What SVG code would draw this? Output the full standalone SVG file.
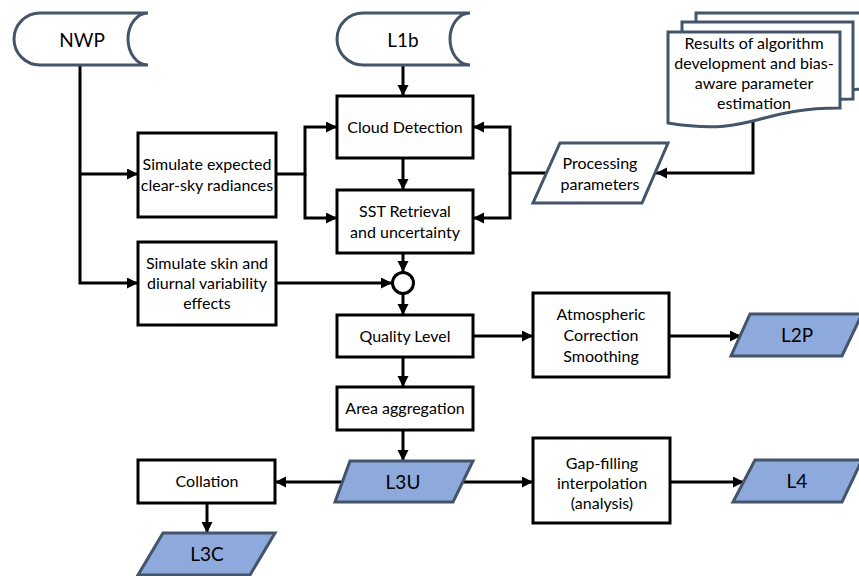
<svg xmlns="http://www.w3.org/2000/svg" width="859" height="576" viewBox="0 0 859 576">
<style>
.box{fill:#fff;stroke:#000;stroke-width:3}
.data{fill:#fff;stroke:#44546A;stroke-width:3}
.out{fill:#8EA9DB;stroke:#44546A;stroke-width:3}
.t{font-family:Lato,"Liberation Sans",sans-serif;font-size:16px;fill:#000;text-anchor:middle}
.tl{font-family:Lato,"Liberation Sans",sans-serif;font-size:19px;fill:#000;text-anchor:middle}
.c{fill:none;stroke:#000;stroke-width:3}
</style>
<defs>
<marker id="ah" markerUnits="userSpaceOnUse" markerWidth="12" markerHeight="12" refX="11" refY="5.5" orient="auto">
<path d="M0,0 L11,5.5 L0,11 z" fill="#000"/>
</marker>
</defs>
<g id="connectors">
<path class="c" d="M80,65 V283 H138" marker-end="url(#ah)"/>
<path class="c" d="M80,174 H138" marker-end="url(#ah)"/>
<path class="c" d="M276,174 H305 V127 H337" marker-end="url(#ah)"/>
<path class="c" d="M305,174 V218 H337" marker-end="url(#ah)"/>
<path class="c" d="M403,65 V96" marker-end="url(#ah)"/>
<path class="c" d="M403,158 V190" marker-end="url(#ah)"/>
<path class="c" d="M403,253 V272" marker-end="url(#ah)"/>
<path class="c" d="M276,283 H392" marker-end="url(#ah)"/>
<path class="c" d="M403,294 V315" marker-end="url(#ah)"/>
<path class="c" d="M403,357 V387" marker-end="url(#ah)"/>
<path class="c" d="M403,430 V461" marker-end="url(#ah)"/>
<path class="c" d="M473,336 H533" marker-end="url(#ah)"/>
<path class="c" d="M669,336 H741" marker-end="url(#ah)"/>
<path class="c" d="M547,173 H510 V127 H473" marker-end="url(#ah)"/>
<path class="c" d="M510,173 V218 H473" marker-end="url(#ah)"/>
<path class="c" d="M753,120 V173 H656" marker-end="url(#ah)"/>
<path class="c" d="M342,482 H275" marker-end="url(#ah)"/>
<path class="c" d="M207,503 V533" marker-end="url(#ah)"/>
<path class="c" d="M463,482 H533" marker-end="url(#ah)"/>
<path class="c" d="M670,482 H744" marker-end="url(#ah)"/>
</g>
<g id="nwp">
<path class="data" d="M148,13 H40 A26,26 0 0 0 40,65 H148 A20,26 0 0 1 148,13 Z"/>
<text class="tl" x="82" y="46.5">NWP</text>
</g>
<g id="l1b">
<path class="data" d="M470,13 H363 A26,26 0 0 0 363,65 H470 A20,26 0 0 1 470,13 Z"/>
<text class="tl" x="403" y="46.5">L1b</text>
</g>
<g id="results">
<path class="data" d="M696,22 V13 H868 V89 C861,89 853,89.4 853,89.4"/>
<path class="data" d="M682,32 V22 H853 V99 C846,99 840,99.3 840,99.3"/>
<path class="data" d="M668,123 C754,137 754,108 840,108 V32 H668 Z"/>
<text class="t" x="754" y="48.6">Results of algorithm</text>
<text class="t" x="754" y="68.6">development and bias-</text>
<text class="t" x="754" y="88.6">aware parameter</text>
<text class="t" x="754" y="108.6">estimation</text>
</g>
<g id="cloud">
<rect class="box" x="337" y="96" width="136" height="62"/>
<text class="t" x="405" y="132.6">Cloud Detection</text>
</g>
<g id="sst">
<rect class="box" x="337" y="190" width="136" height="63"/>
<text class="t" x="405" y="216.6">SST Retrieval</text>
<text class="t" x="405" y="237.6">and uncertainty</text>
</g>
<g id="simclear">
<rect class="box" x="138" y="133" width="138" height="84"/>
<text class="t" x="207" y="169.6">Simulate expected</text>
<text class="t" x="207" y="190.6">clear-sky radiances</text>
</g>
<g id="simskin">
<rect class="box" x="138" y="242" width="138" height="83"/>
<text class="t" x="207" y="268.6">Simulate skin and</text>
<text class="t" x="207" y="288.6">diurnal variability</text>
<text class="t" x="207" y="308.6">effects</text>
</g>
<g id="proc">
<path class="data" d="M560,143 H668 L642,203 H533 Z"/>
<text class="t" x="600" y="168.6">Processing</text>
<text class="t" x="600" y="189.6">parameters</text>
</g>
<g id="merge">
<circle cx="403" cy="283" r="10.5" fill="#fff" stroke="#000" stroke-width="3"/>
</g>
<g id="quality">
<rect class="box" x="337" y="315" width="136" height="42"/>
<text class="t" x="405" y="341.6">Quality Level</text>
</g>
<g id="area">
<rect class="box" x="337" y="387" width="136" height="43"/>
<text class="t" x="405" y="413.6">Area aggregation</text>
</g>
<g id="atmos">
<rect class="box" x="533" y="293" width="136" height="84"/>
<text class="t" x="601" y="319.6">Atmospheric</text>
<text class="t" x="601" y="340.6">Correction</text>
<text class="t" x="601" y="361.6">Smoothing</text>
</g>
<g id="l2p">
<path class="out" d="M750,314 H862 L842,356 H731 Z"/>
<text class="tl" x="797" y="341.6">L2P</text>
</g>
<g id="l3u">
<path class="out" d="M350,461 H473 L453,502 H335 Z"/>
<text class="tl" x="403" y="488.6">L3U</text>
</g>
<g id="collation">
<rect class="box" x="138" y="460" width="137" height="43"/>
<text class="t" x="207" y="486.6">Collation</text>
</g>
<g id="l3c">
<path class="out" d="M163,533 H275 L250,575 H138 Z"/>
<text class="tl" x="207" y="560.6">L3C</text>
</g>
<g id="gap">
<rect class="box" x="533" y="438" width="137" height="85"/>
<text class="t" x="602" y="468.6">Gap-filling</text>
<text class="t" x="602" y="488.6">interpolation</text>
<text class="t" x="602" y="508.6">(analysis)</text>
</g>
<g id="l4">
<path class="out" d="M755,460 H862 L842,502 H733 Z"/>
<text class="tl" x="797" y="487.6">L4</text>
</g>
</svg>
